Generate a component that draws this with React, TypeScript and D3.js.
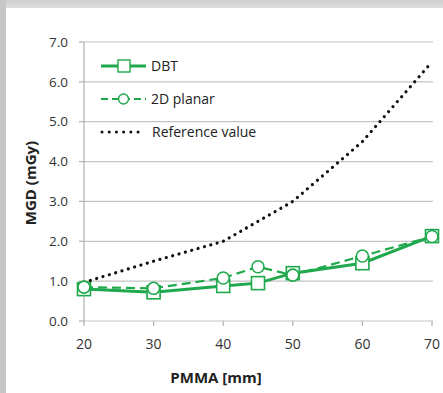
import React from "react";
import * as d3 from "d3";

const pmma = [20, 30, 40, 45, 50, 60, 70];
const dbt = [0.8, 0.72, 0.88, 0.95, 1.2, 1.45, 2.13];
const planar = [0.85, 0.82, 1.08, 1.36, 1.15, 1.63, 2.12];
const refPmma = [20, 30, 40, 50, 60, 70];
const reference = [0.97, 1.5, 2.0, 3.0, 4.5, 6.5];
const yTicks = [0, 1, 2, 3, 4, 5, 6, 7];
const xTicks = [20, 30, 40, 50, 60, 70];

const W = 443;
const H = 393;
const GREEN = "#1fa84c";
const FONT = "'Open Sans', Lato, sans-serif";

export default function App() {
  const x = d3.scaleLinear().domain([20, 70]).range([84, 432]);
  const y = d3.scaleLinear().domain([0, 7]).range([321, 42]);

  const line = d3
    .line<[number, number]>()
    .x((d) => x(d[0]))
    .y((d) => y(d[1]));

  const dbtPts: [number, number][] = pmma.map((p, i) => [p, dbt[i]]);
  const planarPts: [number, number][] = pmma.map((p, i) => [p, planar[i]]);
  const refPts: [number, number][] = refPmma.map((p, i) => [p, reference[i]]);

  return (
    <svg
      width={W}
      height={H}
      style={{ position: "absolute", left: 0, top: 0 }}
    >
      <defs>
        <linearGradient id="topBand" x1="0" y1="0" x2="0" y2="1">
          <stop offset="0" stopColor="#cfcfcf" />
          <stop offset="1" stopColor="#dedede" />
        </linearGradient>
      </defs>
      <rect x={0} y={0} width={W} height={H} fill="#ffffff" />
      <rect x={0} y={0} width={W} height={8} fill="url(#topBand)" />
      <rect x={0} y={0} width={6} height={H} fill="#c6c6c6" />

      {/* gridlines */}
      {yTicks.map((t) => (
        <line
          key={"g" + t}
          x1={84}
          x2={433}
          y1={y(t)}
          y2={y(t)}
          stroke="#c4c4c4"
          strokeWidth={1.2}
        />
      ))}
      {/* y axis */}
      <line x1={84} x2={84} y1={y(7)} y2={y(0)} stroke="#b0b0b0" strokeWidth={1.2} />
      {yTicks.map((t) => (
        <g key={"yt" + t}>
          <line x1={79} x2={84} y1={y(t)} y2={y(t)} stroke="#b0b0b0" strokeWidth={1.2} />
          <text
            x={68}
            y={y(t)}
            dy="0.35em"
            textAnchor="end"
            fontFamily={FONT}
            fontSize={13.5}
            fill="#333"
          >
            {t.toFixed(1)}
          </text>
        </g>
      ))}
      {/* x axis */}
      {xTicks.map((t) => (
        <g key={"xt" + t}>
          <line x1={x(t)} x2={x(t)} y1={y(0)} y2={y(0) + 5} stroke="#b0b0b0" strokeWidth={1.2} />
          <text
            x={x(t)}
            y={344}
            dy="0.35em"
            textAnchor="middle"
            fontFamily={FONT}
            fontSize={14}
            fill="#333"
          >
            {t}
          </text>
        </g>
      ))}

      <text
        x={216}
        y={383}
        textAnchor="middle"
        fontFamily={FONT}
        fontSize={15}
        fontWeight="bold"
        fill="#222"
      >
        PMMA [mm]
      </text>
      <text
        transform="translate(36,183) rotate(-90)"
        textAnchor="middle"
        fontFamily={FONT}
        fontSize={15}
        fontWeight="bold"
        fill="#222"
      >
        MGD (mGy)
      </text>

      {/* reference value */}
      <path
        d={line(refPts) || ""}
        fill="none"
        stroke="#111"
        strokeWidth={3.2}
        strokeDasharray="0.01 6.6"
        strokeLinecap="round"
      />
      {/* 2D planar */}
      <path
        d={line(planarPts) || ""}
        fill="none"
        stroke={GREEN}
        strokeWidth={2.2}
        strokeDasharray="9 5"
      />
      {/* DBT */}
      <path d={line(dbtPts) || ""} fill="none" stroke={GREEN} strokeWidth={3} />
      {dbtPts.map((d, i) => (
        <rect
          key={"s" + i}
          x={x(d[0]) - 6.5}
          y={y(d[1]) - 6.5}
          width={13}
          height={13}
          fill="#fff"
          stroke={GREEN}
          strokeWidth={1.6}
        />
      ))}
      {planarPts.map((d, i) => (
        <circle
          key={"c" + i}
          cx={x(d[0])}
          cy={y(d[1])}
          r={6}
          fill="#fff"
          stroke={GREEN}
          strokeWidth={1.6}
        />
      ))}

      {/* legend */}
      <g fontFamily={FONT} fontSize={14} fill="#222">
        <line x1={101} x2={146} y1={66} y2={66} stroke={GREEN} strokeWidth={3} />
        <rect x={118} y={60} width={12} height={12} fill="#fff" stroke={GREEN} strokeWidth={1.4} />
        <text x={151} y={66} dy="0.35em">DBT</text>

        <line x1={101} x2={146} y1={99} y2={99} stroke={GREEN} strokeWidth={2.2} strokeDasharray="7 4" />
        <circle cx={123.5} cy={99} r={5} fill="#fff" stroke={GREEN} strokeWidth={1.4} />
        <text x={151} y={99} dy="0.35em">2D planar</text>

        <line
          x1={102}
          x2={143}
          y1={132}
          y2={132}
          stroke="#111"
          strokeWidth={3}
          strokeDasharray="0.01 7.2"
          strokeLinecap="round"
        />
        <text x={152} y={132} dy="0.35em">Reference value</text>
      </g>
    </svg>
  );
}
